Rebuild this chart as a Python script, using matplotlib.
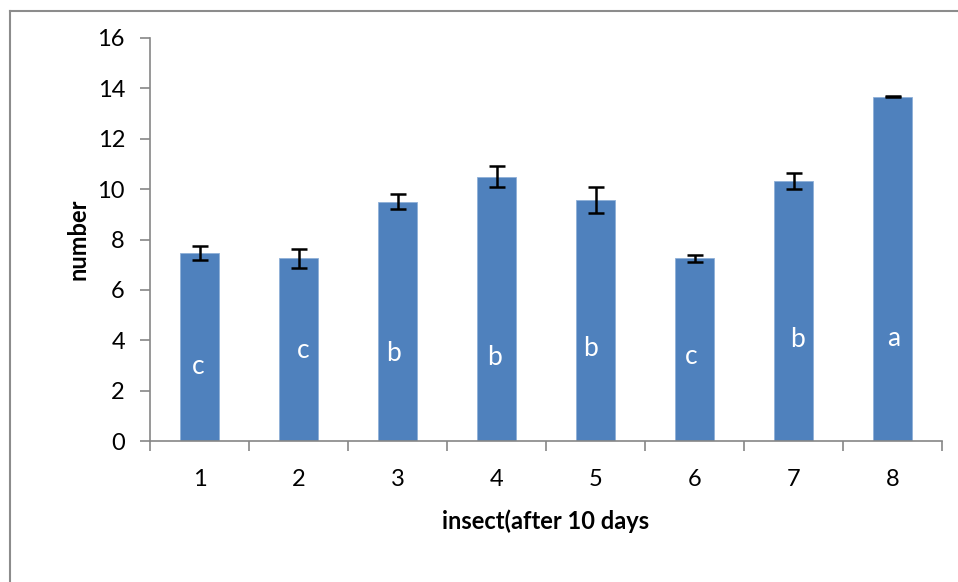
import matplotlib
matplotlib.use("Agg")
import matplotlib.pyplot as plt
from matplotlib.lines import Line2D
import numpy as np

plt.rcParams['font.family'] = ['Lato', 'DejaVu Sans']

groups = [1, 2, 3, 4, 5, 6, 7, 8]
means = [7.48, 7.25, 9.5, 10.5, 9.57, 7.25, 10.33, 13.66]
errs = [0.28, 0.38, 0.29, 0.4, 0.5, 0.15, 0.31, 0.02]
letters = ['c', 'c', 'b', 'b', 'b', 'c', 'b', 'a']
# hand placed text boxes for the significance letters
letter_x = [0.99, 2.05, 2.96, 3.98, 4.95, 5.97, 7.04, 8.01]
letter_y = [2.94, 3.61, 3.49, 3.30, 3.69, 3.37, 4.01, 4.05]

bar_color = '#4f81bd'
axis_gray = '#868686'

fig = plt.figure(figsize=(9.58, 5.82), dpi=100)
ax = fig.add_axes([150/958, 1-441/582, 792/958, 403/582])

x = np.array(groups)
ax.bar(x, means, width=0.4, color=bar_color, edgecolor='#8fb0d8', linewidth=0.6, zorder=2)
ax.errorbar(x, means, yerr=errs, fmt='none', ecolor='black', elinewidth=1.8,
            capsize=5.5, capthick=1.8, zorder=3)

for xi, yi, s in zip(letter_x, letter_y, letters):
    ax.text(xi, yi, s, color='white', fontsize=19, ha='center', va='center', zorder=4)

ax.set_xlim(0.5, 8.5)
ax.set_ylim(0, 16)
ax.set_yticks(np.arange(0, 17, 2))
ax.set_xticks(x)
ax.set_xticks(np.arange(0.5, 9, 1), minor=True)
ax.tick_params(axis='x', which='major', length=0, pad=20, labelsize=17)
ax.tick_params(axis='x', which='minor', length=7, width=1.2, color=axis_gray)
ax.tick_params(axis='y', length=7, width=1.2, color=axis_gray, pad=11, labelsize=17)

for side in ['top', 'right']:
    ax.spines[side].set_visible(False)
for side in ['left', 'bottom']:
    ax.spines[side].set_color(axis_gray)
    ax.spines[side].set_linewidth(1.2)

ax.set_xlabel('insect(after 10 days', fontsize=17, fontweight='bold', labelpad=14)
ax.set_ylabel('number', fontsize=17, fontweight='bold', labelpad=6)

# outer chart frame
fig.add_artist(Line2D([10/958, 10/958], [0, 1-11/582], color='#8c8c8c', lw=1.5))
fig.add_artist(Line2D([10/958, 1], [1-11/582, 1-11/582], color='#8c8c8c', lw=1.5))

fig.savefig('out.png', dpi=100)
